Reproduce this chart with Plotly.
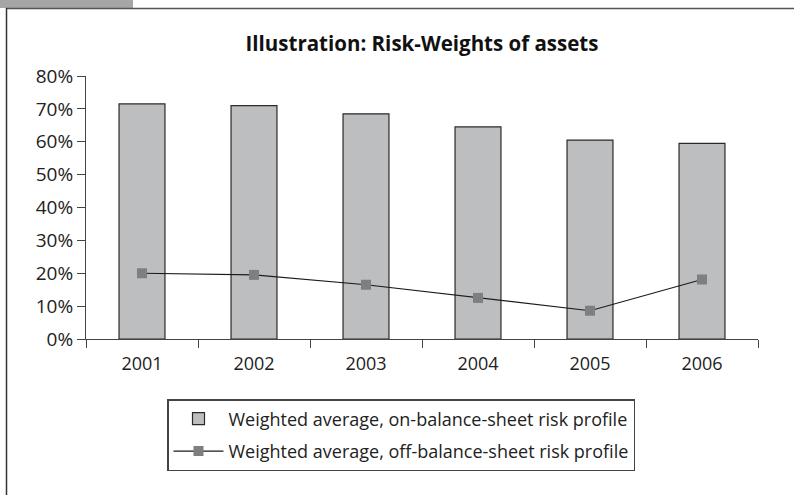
import plotly.graph_objects as go

years = ["2001", "2002", "2003", "2004", "2005", "2006"]
on_balance = [0.715, 0.71, 0.685, 0.645, 0.605, 0.595]
off_balance = [0.20, 0.195, 0.165, 0.125, 0.086, 0.181]
y_ticks = [0, 0.1, 0.2, 0.3, 0.4, 0.5, 0.6, 0.7, 0.8]
y_tick_labels = ["0%", "10%", "20%", "30%", "40%", "50%", "60%", "70%", "80%"]

W, H = 794, 495
L, R, T, B = 86, 36, 76, 156
pw, ph = W - L - R, H - T - B

def px(x):
    return (x - L) / pw

def py(y):
    return (H - B - y) / ph

fig = go.Figure()
fig.add_trace(go.Bar(
    x=years, y=on_balance,
    name="Weighted average, on-balance-sheet risk profile",
    legendgroup="a",
    marker=dict(color="#bdbec0", line=dict(color="#2a2a2a", width=1.2)),
    width=0.41,
))
fig.add_trace(go.Scatter(
    x=years, y=off_balance, mode="lines+markers",
    name="Weighted average, off-balance-sheet risk profile",
    legendgroup="b",
    line=dict(color="#1a1a1a", width=1.2),
    marker=dict(symbol="square", size=10, color="#7f7f7f"),
))

font_family = "Open Sans, Lato, DejaVu Sans, sans-serif"

shapes = [
    dict(type="rect", xref="paper", yref="paper", x0=px(0), x1=px(133), y0=py(8), y1=py(0),
         fillcolor="#a6a6a6", line=dict(width=0), layer="above"),
    dict(type="line", xref="paper", yref="paper", x0=px(6), x1=px(794), y0=py(8.5), y1=py(8.5),
         line=dict(color="#555555", width=1.5)),
    dict(type="line", xref="paper", yref="paper", x0=px(6.5), x1=px(6.5), y0=py(8), y1=py(495),
         line=dict(color="#333333", width=1.5)),
]

fig.update_layout(
    width=W, height=H,
    margin=dict(l=L, r=R, t=T, b=B, pad=0),
    paper_bgcolor="white", plot_bgcolor="white",
    font=dict(family=font_family, color="#222222", size=18),
    title=dict(text="<b>Illustration: Risk-Weights of assets</b>",
               x=0.5, xref="paper", xanchor="center",
               y=1 - 44 / H, yref="container", yanchor="middle",
               font=dict(size=20.5, color="#111111", family=font_family)),
    showlegend=True,
    legend=dict(x=px(167), y=py(399), xanchor="left", yanchor="top",
                bordercolor="#444444", borderwidth=1.5, bgcolor="white",
                font=dict(size=18, color="#222222"), traceorder="grouped",
                tracegroupgap=6, itemwidth=50),
    shapes=shapes,
    bargap=0.59,
)
fig.update_xaxes(
    type="category", showline=True, linecolor="#444444", linewidth=1,
    ticks="outside", tickson="boundaries", ticklen=8, tickcolor="#444444",
    showgrid=False, tickfont=dict(size=18), ticklabelstandoff=8,
)
fig.update_yaxes(
    range=[0, 0.8], tickvals=y_ticks, ticktext=y_tick_labels,
    showline=True, linecolor="#444444", linewidth=1,
    ticks="outside", ticklen=8, tickcolor="#444444",
    showgrid=False, zeroline=False, tickfont=dict(size=19),
)

fig.write_html("out.html", config={"displayModeBar": False},
               post_script="document.body.style.margin='0';")
